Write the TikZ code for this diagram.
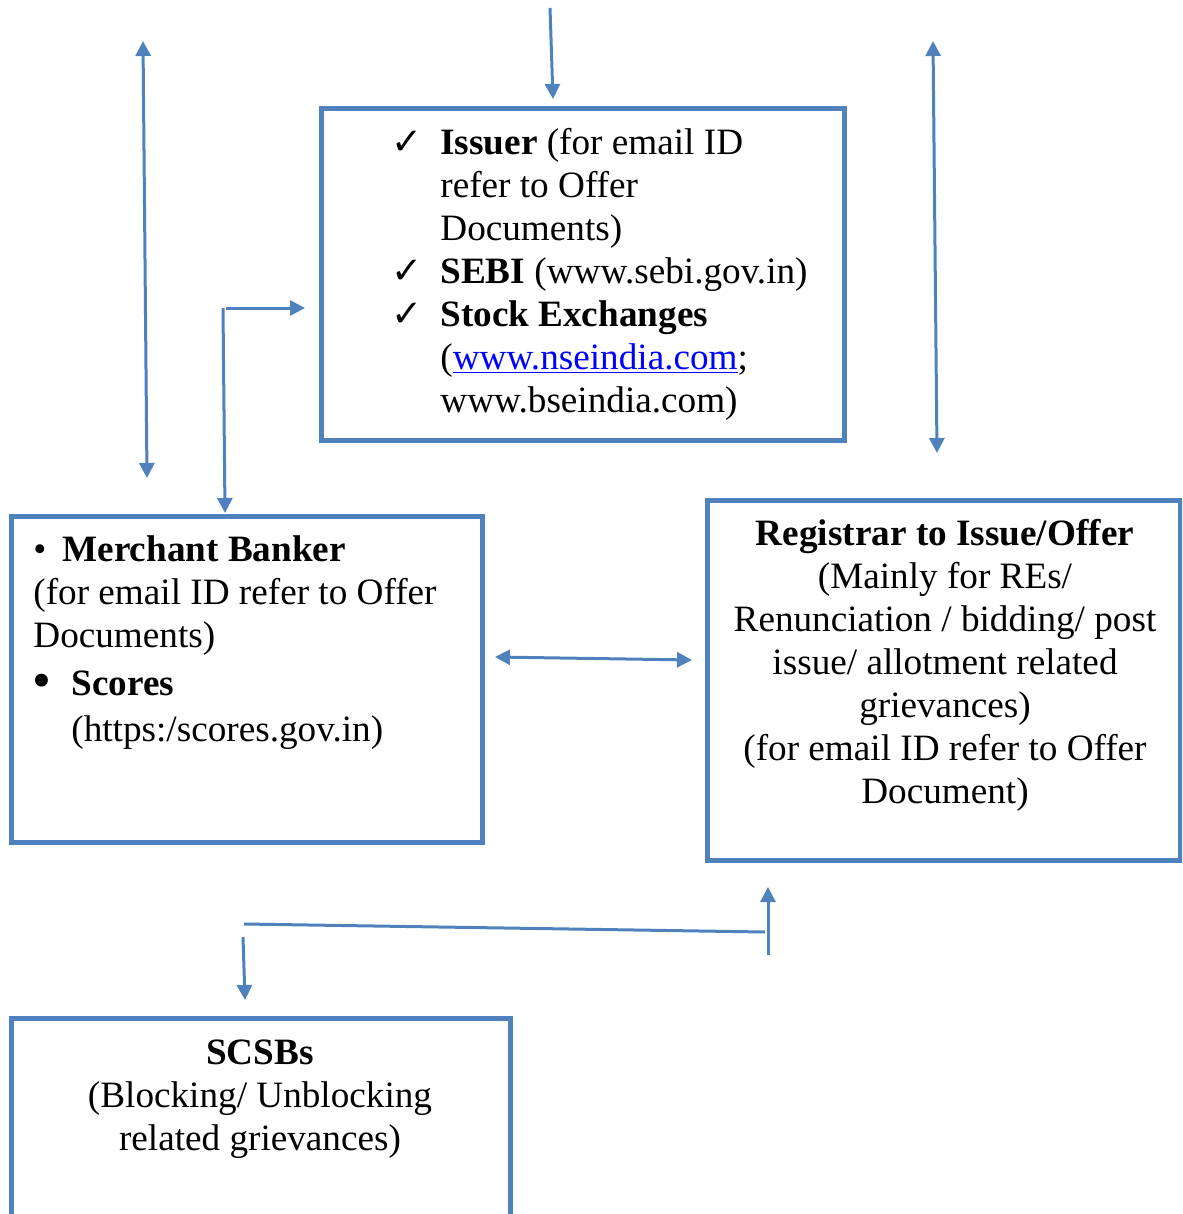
\documentclass[tikz,border=0pt]{standalone}
\usepackage{fontspec}
\setmainfont{Liberation Serif}
\newfontfamily\symfont{DejaVu Sans}
\usetikzlibrary{arrows.meta}
\definecolor{boxblue}{HTML}{4F81BD}
\definecolor{linkblue}{HTML}{0000FF}
\newcommand{\chk}{{\symfont\char"2713}}
\newcommand{\tick}{\llap{\chk\hspace{9pt}}}
\begin{document}
\begin{tikzpicture}[x=0.5pt,y=-0.5pt,
  box/.style={draw=boxblue, line width=2.5pt, inner sep=0pt, outer sep=0pt, anchor=north west},
  txt/.style={inner sep=0pt, font=\fontsize{18.6}{21.5}\selectfont},
  conn/.style={draw=boxblue, line width=1.5pt},
  >={Triangle[length=7.5pt,width=7.5pt]}]
\useasboundingbox (0,0) rectangle (1182,1214);
\clip (0,0) rectangle (1182,1214);
% boxes
\node[box, minimum width=261.5pt, minimum height=165.5pt] (issuerbox) at (321,109){};
\node[box, minimum width=235.5pt, minimum height=163pt] (mbbox) at (11,516){};
\node[box, minimum width=236.5pt, minimum height=180pt] (rtabox) at (707,500){};
\node[box, minimum width=249.5pt, minimum height=120pt] (scsbbox) at (11,1018){};
% texts (base = last line)
\node[txt, anchor=base west, align=left] (issuer) at (440,412){\tick\textbf{Issuer} (for email ID\\refer to Offer\\Documents)\\\tick\textbf{SEBI} (www.sebi.gov.in)\\\tick\textbf{Stock Exchanges}\\(\textcolor{linkblue}{\underline{www.nseindia.com}};\\www.bseindia.com)};
\node[txt, anchor=base west, align=left] (mb) at (33,647){\makebox[14.5pt][l]{\textbullet}\textbf{Merchant Banker}\\(for email ID refer to Offer\\Documents)};
\node[txt, anchor=base west] (scores) at (71,695){\llap{\raisebox{-1.5pt}{\fontsize{27}{27}\selectfont\textbullet}\hspace{10pt}}\textbf{Scores}};
\node[txt, anchor=base west] (scoresurl) at (71,741){(https:/scores.gov.in)};
\node[txt, anchor=base, align=center] (rta) at (945,803){\textbf{Registrar to Issue/Offer}\\(Mainly for REs/\\Renunciation / bidding/ post\\issue/ allotment related\\grievances)\\(for email ID refer to Offer\\Document)};
\node[txt, anchor=base, align=center] (scsb) at (260,1150){\textbf{SCSBs}\\(Blocking/ Unblocking\\related grievances)};
% connectors
\coordinate (lvtop) at (143,41);
\coordinate (lvbot) at (147,478);
\coordinate (rvtop) at (933,41);
\coordinate (rvbot) at (937,453);
\coordinate (topin) at (550,8);
\coordinate (topout) at (553,99);
\coordinate (elbow) at (223,308);
\coordinate (elbowr) at (305,308);
\coordinate (elbowd) at (225,513);
\coordinate (midl) at (495,657);
\coordinate (midr) at (692,660);
\coordinate (botl) at (244,924);
\coordinate (botr) at (765,932);
\coordinate (downst) at (243,937);
\coordinate (downend) at (245,1000);
\coordinate (upst) at (768,955);
\coordinate (upend) at (768,887);
\draw[conn, <->] (lvtop) -- (lvbot);
\draw[conn, <->] (rvtop) -- (rvbot);
\draw[conn, ->] (topin) -- (topout);
\draw[conn, ->] ([xshift=1.5pt]elbow) -- (elbowr);
\draw[conn, ->] (elbow) -- (elbowd);
\draw[conn, <->] (midl) -- (midr);
\draw[conn] (botl) -- (botr);
\draw[conn, ->] (downst) -- (downend);
\draw[conn, ->] (upst) -- (upend);
\end{tikzpicture}
\end{document}
